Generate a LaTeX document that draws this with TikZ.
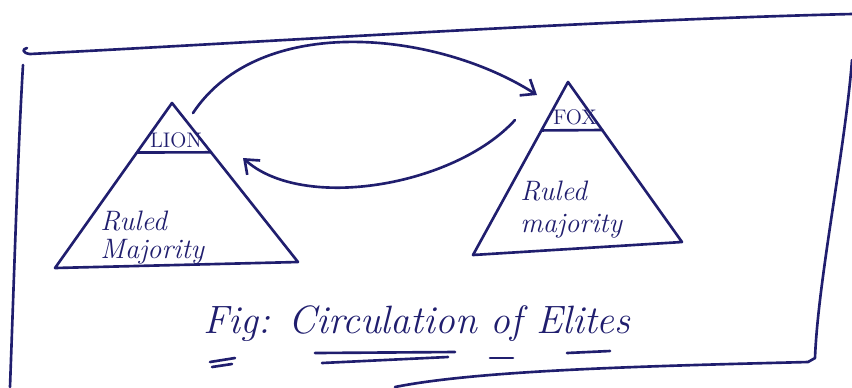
\documentclass[tikz,border=0pt]{standalone}
\usetikzlibrary{arrows.meta,calc}
\definecolor{ink}{RGB}{32,30,110}
\begin{document}
\begin{tikzpicture}[x=0.02cm,y=-0.02cm,
  inkline/.style={draw=ink,line width=1.5pt,line cap=round,line join=round},
  arr/.style={inkline,-{Straight Barb[length=7pt,width=11pt,line width=1.5pt]}},
  hand/.style={text=ink,inner sep=0pt,font=\itshape\fontsize{16}{16}\selectfont},
  elite/.style={text=ink,inner sep=0pt,font=\fontsize{12}{12}\selectfont},
  capt/.style={text=ink,inner sep=0pt,font=\itshape\fontsize{22.5}{22.5}\selectfont}]
\useasboundingbox (0,0) rectangle (852,387);
% frame
\draw[inkline] (27,48) .. controls (22,49) and (22,53) .. (30,54)
  .. controls (300,40) and (600,20) .. (852,14);
\draw[inkline] (23,65) .. controls (18,150) and (15,250) .. (10,387);
\draw[inkline] (852,60) .. controls (845,150) and (818,280) .. (815,358)
  -- (808,362) .. controls (650,366) and (480,370) .. (395,387);
% left triangle
\coordinate (lA) at (172,103);
\coordinate (lB) at (55,268);
\coordinate (lC) at (298,262);
\draw[inkline] (lA) -- (lB) -- (lC) -- cycle;
\draw[inkline] ($(lA)!0.30!(lB)$) -- ($(lA)!0.31!(lC)$);
\node[elite,anchor=base] (lion) at (176,147) {LION};
\node[hand,anchor=base west] (lruled) at (100,230) {Ruled};
\node[hand,anchor=base west] (lmaj) at (100,258) {Majority};
% right triangle
\coordinate (rA) at (568,82);
\coordinate (rB) at (473,255);
\coordinate (rC) at (682,242);
\draw[inkline] (rA) -- (rB) -- (rC) -- cycle;
\draw[inkline] ($(rA)!0.28!(rB)$) -- ($(rA)!0.30!(rC)$);
\node[elite,anchor=base] (fox) at (575,124) {FOX};
\node[hand,anchor=base west] (rruled) at (520,200) {Ruled};
\node[hand,anchor=base west] (rmaj) at (520,232) {majority};
% arrows
\coordinate (a1s) at (193,113);
\coordinate (a1e) at (537,95);
\draw[arr] (a1s) .. controls (260,12) and (437,31) .. (a1e);
\coordinate (a2s) at (515,120);
\coordinate (a2e) at (243,158);
\draw[arr] (a2s) .. controls (455,186) and (303,212) .. (a2e);
% caption
\node[capt,anchor=base west] (cap) at (203,333) {Fig: Circulation of Elites};
\draw[inkline] (210,362) -- (235,358);
\draw[inkline] (212,367) -- (232,364);
\draw[inkline] (315,353) -- (455,352);
\draw[inkline] (322,363) -- (448,357);
\draw[inkline] (490,358) -- (513,358);
\draw[inkline] (567,353) -- (610,351);
\end{tikzpicture}
\end{document}
